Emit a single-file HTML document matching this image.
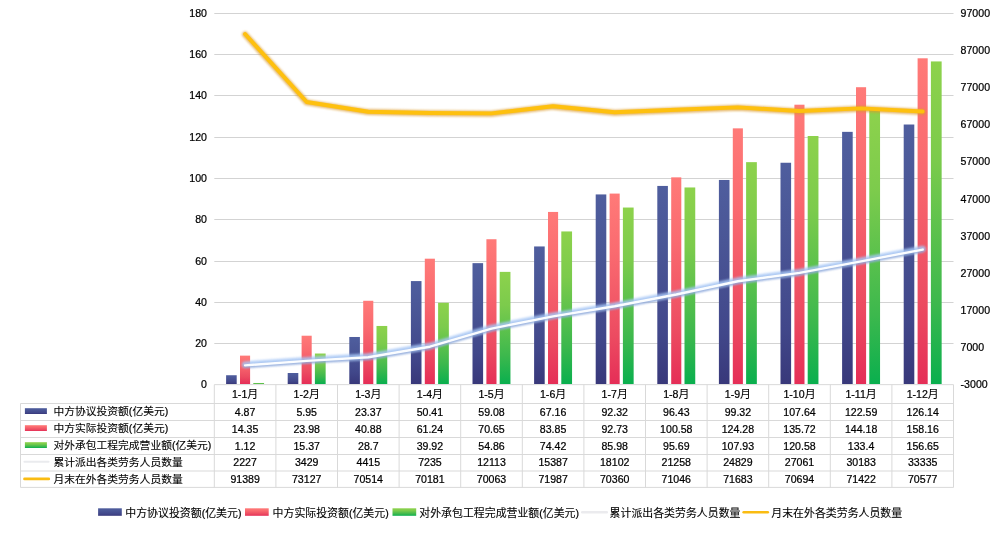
<!DOCTYPE html>
<html lang="zh"><head><meta charset="utf-8"><title>chart</title>
<style>html,body{margin:0;padding:0;background:#fff;}body{width:1000px;height:538px;overflow:hidden;}svg{display:block;}.c{font-size:10.92px;stroke-width:0.1px}.t{font-size:10.78px;stroke-width:0.1px}text{font-family:"Liberation Sans","Noto Sans CJK SC",sans-serif;font-size:10.58px;fill:#000;stroke:#000;stroke-width:0.22px;}</style></head><body>
<svg width="1000" height="538" viewBox="0 0 1000 538">
<defs>
<linearGradient id="gb" x1="0" y1="0" x2="0" y2="1"><stop offset="0" stop-color="#4f5e9e"/><stop offset="0.3" stop-color="#4a5696"/><stop offset="0.75" stop-color="#41478a"/><stop offset="1" stop-color="#38387a"/></linearGradient>
<linearGradient id="gr" x1="0" y1="0" x2="0" y2="1"><stop offset="0" stop-color="#ff7a78"/><stop offset="0.3" stop-color="#fa6b70"/><stop offset="0.75" stop-color="#ec4b61"/><stop offset="1" stop-color="#e52e57"/></linearGradient>
<linearGradient id="gg" x1="0" y1="0" x2="0" y2="1"><stop offset="0" stop-color="#8dd24c"/><stop offset="0.3" stop-color="#7ccb4c"/><stop offset="0.75" stop-color="#3cb84d"/><stop offset="1" stop-color="#0aaf4e"/></linearGradient>
<filter id="glowB" x="-10%" y="-50%" width="120%" height="200%"><feGaussianBlur stdDeviation="1.3"/></filter>
<filter id="glowS" x="-10%" y="-50%" width="120%" height="200%"><feGaussianBlur stdDeviation="0.8"/></filter>
<filter id="glowY" x="-10%" y="-50%" width="120%" height="200%"><feGaussianBlur stdDeviation="0.9"/></filter>
</defs>
<rect width="1000" height="538" fill="#fff"/>
<text x="207.00" y="388.30" text-anchor="end">0</text>
<line x1="214.30" y1="343.50" x2="953.50" y2="343.50" stroke="#d3d3d3" stroke-width="1"/>
<text x="207.00" y="347.30" text-anchor="end">20</text>
<line x1="214.30" y1="302.50" x2="953.50" y2="302.50" stroke="#d3d3d3" stroke-width="1"/>
<text x="207.00" y="305.95" text-anchor="end">40</text>
<line x1="214.30" y1="261.50" x2="953.50" y2="261.50" stroke="#d3d3d3" stroke-width="1"/>
<text x="207.00" y="264.60" text-anchor="end">60</text>
<line x1="214.30" y1="219.50" x2="953.50" y2="219.50" stroke="#d3d3d3" stroke-width="1"/>
<text x="207.00" y="223.25" text-anchor="end">80</text>
<line x1="214.30" y1="178.50" x2="953.50" y2="178.50" stroke="#d3d3d3" stroke-width="1"/>
<text x="207.00" y="181.90" text-anchor="end">100</text>
<line x1="214.30" y1="137.50" x2="953.50" y2="137.50" stroke="#d3d3d3" stroke-width="1"/>
<text x="207.00" y="140.55" text-anchor="end">120</text>
<line x1="214.30" y1="95.50" x2="953.50" y2="95.50" stroke="#d3d3d3" stroke-width="1"/>
<text x="207.00" y="99.20" text-anchor="end">140</text>
<line x1="214.30" y1="54.50" x2="953.50" y2="54.50" stroke="#d3d3d3" stroke-width="1"/>
<text x="207.00" y="57.85" text-anchor="end">160</text>
<line x1="214.30" y1="13.50" x2="953.50" y2="13.50" stroke="#d3d3d3" stroke-width="1"/>
<text x="207.00" y="16.50" text-anchor="end">180</text>
<text x="960.60" y="388.30">-3000</text>
<text x="960.60" y="351.44">7000</text>
<text x="960.60" y="314.22">17000</text>
<text x="960.60" y="277.00">27000</text>
<text x="960.60" y="239.79">37000</text>
<text x="960.60" y="202.57">47000</text>
<text x="960.60" y="165.36">57000</text>
<text x="960.60" y="128.15">67000</text>
<text x="960.60" y="90.93">77000</text>
<text x="960.60" y="53.71">87000</text>
<text x="960.60" y="16.50">97000</text>
<rect x="226.10" y="375.23" width="10.60" height="8.77" fill="url(#gb)"/>
<rect x="240.00" y="355.63" width="10.10" height="28.37" fill="url(#gr)"/>
<rect x="253.30" y="382.98" width="10.75" height="1.02" fill="url(#gg)"/>
<rect x="287.70" y="373.00" width="10.60" height="11.00" fill="url(#gb)"/>
<rect x="301.60" y="335.72" width="10.10" height="48.28" fill="url(#gr)"/>
<rect x="314.90" y="353.52" width="10.75" height="30.48" fill="url(#gg)"/>
<rect x="349.30" y="336.98" width="10.60" height="47.02" fill="url(#gb)"/>
<rect x="363.20" y="300.78" width="10.10" height="83.22" fill="url(#gr)"/>
<rect x="376.50" y="325.96" width="10.75" height="58.04" fill="url(#gg)"/>
<rect x="410.90" y="281.08" width="10.60" height="102.92" fill="url(#gb)"/>
<rect x="424.80" y="258.69" width="10.10" height="125.31" fill="url(#gr)"/>
<rect x="438.10" y="302.77" width="10.75" height="81.23" fill="url(#gg)"/>
<rect x="472.50" y="263.15" width="10.60" height="120.85" fill="url(#gb)"/>
<rect x="486.40" y="239.23" width="10.10" height="144.77" fill="url(#gr)"/>
<rect x="499.70" y="271.88" width="10.75" height="112.12" fill="url(#gg)"/>
<rect x="534.10" y="246.45" width="10.60" height="137.55" fill="url(#gb)"/>
<rect x="548.00" y="211.94" width="10.10" height="172.06" fill="url(#gr)"/>
<rect x="561.30" y="231.44" width="10.75" height="152.56" fill="url(#gg)"/>
<rect x="595.70" y="194.43" width="10.60" height="189.57" fill="url(#gb)"/>
<rect x="609.60" y="193.58" width="10.10" height="190.42" fill="url(#gr)"/>
<rect x="622.90" y="207.54" width="10.75" height="176.46" fill="url(#gg)"/>
<rect x="657.30" y="185.93" width="10.60" height="198.07" fill="url(#gb)"/>
<rect x="671.20" y="177.35" width="10.10" height="206.65" fill="url(#gr)"/>
<rect x="684.50" y="187.46" width="10.75" height="196.54" fill="url(#gg)"/>
<rect x="718.90" y="179.96" width="10.60" height="204.04" fill="url(#gb)"/>
<rect x="732.80" y="128.35" width="10.10" height="255.65" fill="url(#gr)"/>
<rect x="746.10" y="162.15" width="10.75" height="221.85" fill="url(#gg)"/>
<rect x="780.50" y="162.75" width="10.60" height="221.25" fill="url(#gb)"/>
<rect x="794.40" y="104.70" width="10.10" height="279.30" fill="url(#gr)"/>
<rect x="807.70" y="136.00" width="10.75" height="248.00" fill="url(#gg)"/>
<rect x="842.10" y="131.85" width="10.60" height="252.15" fill="url(#gb)"/>
<rect x="856.00" y="87.21" width="10.10" height="296.79" fill="url(#gr)"/>
<rect x="869.30" y="109.50" width="10.75" height="274.50" fill="url(#gg)"/>
<rect x="903.70" y="124.51" width="10.60" height="259.49" fill="url(#gb)"/>
<rect x="917.60" y="58.30" width="10.10" height="325.70" fill="url(#gr)"/>
<rect x="930.90" y="61.43" width="10.75" height="322.57" fill="url(#gg)"/>
<g transform="translate(0,-0.5)"><polyline points="245.10,365.85 306.70,361.37 368.30,357.71 429.90,347.21 491.50,329.06 553.10,316.87 614.70,306.77 676.30,295.02 737.90,281.73 799.50,273.43 861.10,261.81 922.70,250.08" fill="none" stroke="#a6c6f5" stroke-width="6.4" stroke-linecap="round" stroke-linejoin="round" opacity="0.85" filter="url(#glowB)" transform="translate(0,-0.7)"/>
<polyline points="245.10,365.85 306.70,361.37 368.30,357.71 429.90,347.21 491.50,329.06 553.10,316.87 614.70,306.77 676.30,295.02 737.90,281.73 799.50,273.43 861.10,261.81 922.70,250.08" fill="none" stroke="#8096c8" stroke-width="3.0" stroke-linecap="round" stroke-linejoin="round" opacity="0.6" filter="url(#glowS)" transform="translate(0,1.2)"/>
<polyline points="245.10,365.85 306.70,361.37 368.30,357.71 429.90,347.21 491.50,329.06 553.10,316.87 614.70,306.77 676.30,295.02 737.90,281.73 799.50,273.43 861.10,261.81 922.70,250.08" fill="none" stroke="#fbfdff" stroke-width="2.4" stroke-linecap="round" stroke-linejoin="round"/></g>
<polyline points="245.10,34.03 306.70,101.99 368.30,111.72 429.90,112.96 491.50,113.40 553.10,106.24 614.70,112.29 676.30,109.74 737.90,107.37 799.50,111.05 861.10,108.34 922.70,111.48" fill="none" stroke="#dc9a2c" stroke-width="6.0" stroke-linecap="round" stroke-linejoin="round" opacity="0.7" filter="url(#glowY)" transform="translate(0,0.4)"/>
<polyline points="245.10,34.03 306.70,101.99 368.30,111.72 429.90,112.96 491.50,113.40 553.10,106.24 614.70,112.29 676.30,109.74 737.90,107.37 799.50,111.05 861.10,108.34 922.70,111.48" fill="none" stroke="#fec00e" stroke-width="3.9" stroke-linecap="round" stroke-linejoin="round"/>
<line x1="214.30" y1="384.65" x2="953.50" y2="384.65" stroke="#d9d9d9"/>
<line x1="20.50" y1="403.50" x2="953.50" y2="403.50" stroke="#d9d9d9"/>
<line x1="20.50" y1="420.50" x2="953.50" y2="420.50" stroke="#d9d9d9"/>
<line x1="20.50" y1="437.50" x2="953.50" y2="437.50" stroke="#d9d9d9"/>
<line x1="20.50" y1="454.50" x2="953.50" y2="454.50" stroke="#d9d9d9"/>
<line x1="20.50" y1="471.00" x2="953.50" y2="471.00" stroke="#d9d9d9"/>
<line x1="20.50" y1="487.40" x2="953.50" y2="487.40" stroke="#d9d9d9"/>
<line x1="20.50" y1="403.50" x2="20.50" y2="487.40" stroke="#d9d9d9"/>
<line x1="214.30" y1="384.65" x2="214.30" y2="487.40" stroke="#d9d9d9"/>
<line x1="275.90" y1="384.65" x2="275.90" y2="487.40" stroke="#d9d9d9"/>
<line x1="337.50" y1="384.65" x2="337.50" y2="487.40" stroke="#d9d9d9"/>
<line x1="399.10" y1="384.65" x2="399.10" y2="487.40" stroke="#d9d9d9"/>
<line x1="460.70" y1="384.65" x2="460.70" y2="487.40" stroke="#d9d9d9"/>
<line x1="522.30" y1="384.65" x2="522.30" y2="487.40" stroke="#d9d9d9"/>
<line x1="583.90" y1="384.65" x2="583.90" y2="487.40" stroke="#d9d9d9"/>
<line x1="645.50" y1="384.65" x2="645.50" y2="487.40" stroke="#d9d9d9"/>
<line x1="707.10" y1="384.65" x2="707.10" y2="487.40" stroke="#d9d9d9"/>
<line x1="768.70" y1="384.65" x2="768.70" y2="487.40" stroke="#d9d9d9"/>
<line x1="830.30" y1="384.65" x2="830.30" y2="487.40" stroke="#d9d9d9"/>
<line x1="891.90" y1="384.65" x2="891.90" y2="487.40" stroke="#d9d9d9"/>
<line x1="953.50" y1="384.65" x2="953.50" y2="487.40" stroke="#d9d9d9"/>
<text x="245.10" y="397.50" text-anchor="middle">1-1<tspan class="c">月</tspan></text>
<text x="245.10" y="415.50" text-anchor="middle">4.87</text>
<text x="245.10" y="432.50" text-anchor="middle">14.35</text>
<text x="245.10" y="449.50" text-anchor="middle">1.12</text>
<text x="245.10" y="466.25" text-anchor="middle">2227</text>
<text x="245.10" y="482.70" text-anchor="middle">91389</text>
<text x="306.70" y="397.50" text-anchor="middle">1-2<tspan class="c">月</tspan></text>
<text x="306.70" y="415.50" text-anchor="middle">5.95</text>
<text x="306.70" y="432.50" text-anchor="middle">23.98</text>
<text x="306.70" y="449.50" text-anchor="middle">15.37</text>
<text x="306.70" y="466.25" text-anchor="middle">3429</text>
<text x="306.70" y="482.70" text-anchor="middle">73127</text>
<text x="368.30" y="397.50" text-anchor="middle">1-3<tspan class="c">月</tspan></text>
<text x="368.30" y="415.50" text-anchor="middle">23.37</text>
<text x="368.30" y="432.50" text-anchor="middle">40.88</text>
<text x="368.30" y="449.50" text-anchor="middle">28.7</text>
<text x="368.30" y="466.25" text-anchor="middle">4415</text>
<text x="368.30" y="482.70" text-anchor="middle">70514</text>
<text x="429.90" y="397.50" text-anchor="middle">1-4<tspan class="c">月</tspan></text>
<text x="429.90" y="415.50" text-anchor="middle">50.41</text>
<text x="429.90" y="432.50" text-anchor="middle">61.24</text>
<text x="429.90" y="449.50" text-anchor="middle">39.92</text>
<text x="429.90" y="466.25" text-anchor="middle">7235</text>
<text x="429.90" y="482.70" text-anchor="middle">70181</text>
<text x="491.50" y="397.50" text-anchor="middle">1-5<tspan class="c">月</tspan></text>
<text x="491.50" y="415.50" text-anchor="middle">59.08</text>
<text x="491.50" y="432.50" text-anchor="middle">70.65</text>
<text x="491.50" y="449.50" text-anchor="middle">54.86</text>
<text x="491.50" y="466.25" text-anchor="middle">12113</text>
<text x="491.50" y="482.70" text-anchor="middle">70063</text>
<text x="553.10" y="397.50" text-anchor="middle">1-6<tspan class="c">月</tspan></text>
<text x="553.10" y="415.50" text-anchor="middle">67.16</text>
<text x="553.10" y="432.50" text-anchor="middle">83.85</text>
<text x="553.10" y="449.50" text-anchor="middle">74.42</text>
<text x="553.10" y="466.25" text-anchor="middle">15387</text>
<text x="553.10" y="482.70" text-anchor="middle">71987</text>
<text x="614.70" y="397.50" text-anchor="middle">1-7<tspan class="c">月</tspan></text>
<text x="614.70" y="415.50" text-anchor="middle">92.32</text>
<text x="614.70" y="432.50" text-anchor="middle">92.73</text>
<text x="614.70" y="449.50" text-anchor="middle">85.98</text>
<text x="614.70" y="466.25" text-anchor="middle">18102</text>
<text x="614.70" y="482.70" text-anchor="middle">70360</text>
<text x="676.30" y="397.50" text-anchor="middle">1-8<tspan class="c">月</tspan></text>
<text x="676.30" y="415.50" text-anchor="middle">96.43</text>
<text x="676.30" y="432.50" text-anchor="middle">100.58</text>
<text x="676.30" y="449.50" text-anchor="middle">95.69</text>
<text x="676.30" y="466.25" text-anchor="middle">21258</text>
<text x="676.30" y="482.70" text-anchor="middle">71046</text>
<text x="737.90" y="397.50" text-anchor="middle">1-9<tspan class="c">月</tspan></text>
<text x="737.90" y="415.50" text-anchor="middle">99.32</text>
<text x="737.90" y="432.50" text-anchor="middle">124.28</text>
<text x="737.90" y="449.50" text-anchor="middle">107.93</text>
<text x="737.90" y="466.25" text-anchor="middle">24829</text>
<text x="737.90" y="482.70" text-anchor="middle">71683</text>
<text x="799.50" y="397.50" text-anchor="middle">1-10<tspan class="c">月</tspan></text>
<text x="799.50" y="415.50" text-anchor="middle">107.64</text>
<text x="799.50" y="432.50" text-anchor="middle">135.72</text>
<text x="799.50" y="449.50" text-anchor="middle">120.58</text>
<text x="799.50" y="466.25" text-anchor="middle">27061</text>
<text x="799.50" y="482.70" text-anchor="middle">70694</text>
<text x="861.10" y="397.50" text-anchor="middle">1-11<tspan class="c">月</tspan></text>
<text x="861.10" y="415.50" text-anchor="middle">122.59</text>
<text x="861.10" y="432.50" text-anchor="middle">144.18</text>
<text x="861.10" y="449.50" text-anchor="middle">133.4</text>
<text x="861.10" y="466.25" text-anchor="middle">30183</text>
<text x="861.10" y="482.70" text-anchor="middle">71422</text>
<text x="922.70" y="397.50" text-anchor="middle">1-12<tspan class="c">月</tspan></text>
<text x="922.70" y="415.50" text-anchor="middle">126.14</text>
<text x="922.70" y="432.50" text-anchor="middle">158.16</text>
<text x="922.70" y="449.50" text-anchor="middle">156.65</text>
<text x="922.70" y="466.25" text-anchor="middle">33335</text>
<text x="922.70" y="482.70" text-anchor="middle">70577</text>
<rect x="24.90" y="408.20" width="22" height="5.8" fill="url(#gb)"/>
<text x="53.50" y="415.40"><tspan class="t">中方协议投资额</tspan>(<tspan class="t">亿美元</tspan>)</text>
<rect x="24.90" y="425.20" width="22" height="5.8" fill="url(#gr)"/>
<text x="53.50" y="432.40"><tspan class="t">中方实际投资额</tspan>(<tspan class="t">亿美元</tspan>)</text>
<rect x="24.90" y="442.20" width="22" height="5.8" fill="url(#gg)"/>
<text x="53.50" y="449.40"><tspan class="t">对外承包工程完成营业额</tspan>(<tspan class="t">亿美元</tspan>)</text>
<line x1="24.5" y1="461.75" x2="48.5" y2="461.75" stroke="#eaebee" stroke-width="2.2" stroke-linecap="round"/>
<text x="53.50" y="466.15"><tspan class="t">累计派出各类劳务人员数量</tspan></text>
<line x1="24.5" y1="478.90" x2="48.8" y2="478.90" stroke="#fabc12" stroke-width="2.7" stroke-linecap="round"/>
<text x="53.50" y="482.60"><tspan class="t">月末在外各类劳务人员数量</tspan></text>
<rect x="98.10" y="508.30" width="23.70" height="7.5" fill="url(#gb)"/>
<text x="125.30" y="516.70"><tspan class="c">中方协议投资额</tspan>(<tspan class="c">亿美元</tspan>)</text>
<rect x="245.00" y="508.30" width="23.70" height="7.5" fill="url(#gr)"/>
<text x="272.60" y="516.70"><tspan class="c">中方实际投资额</tspan>(<tspan class="c">亿美元</tspan>)</text>
<rect x="392.50" y="508.30" width="23.70" height="7.5" fill="url(#gg)"/>
<text x="419.30" y="516.70"><tspan class="c">对外承包工程完成营业额</tspan>(<tspan class="c">亿美元</tspan>)</text>
<line x1="582.20" y1="512.30" x2="606.80" y2="512.30" stroke="#ebebee" stroke-width="2.4" stroke-linecap="round"/>
<text x="609.60" y="516.70"><tspan class="c">累计派出各类劳务人员数量</tspan></text>
<line x1="743.60" y1="512.30" x2="767.80" y2="512.30" stroke="#fabc12" stroke-width="2.5" stroke-linecap="round"/>
<text x="771.30" y="516.70"><tspan class="c">月末在外各类劳务人员数量</tspan></text>
</svg></body></html>
